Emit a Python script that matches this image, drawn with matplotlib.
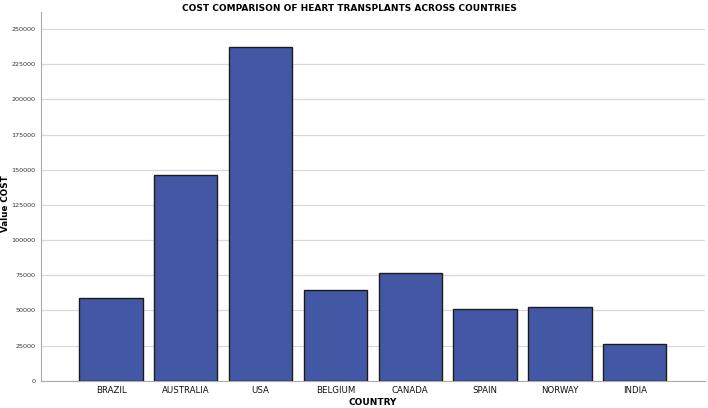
import matplotlib
matplotlib.use("Agg")
import matplotlib.pyplot as plt

countries = ["BRAZIL", "AUSTRALIA", "USA", "BELGIUM", "CANADA", "SPAIN", "NORWAY", "INDIA"]
costs = [58600, 146300, 237200, 64500, 76600, 51200, 52200, 25900]
yticks = [0, 25000, 50000, 75000, 100000, 125000, 150000, 175000, 200000, 225000, 250000]

plt.rcParams['font.family'] = ['DejaVu Sans']
fig = plt.figure(figsize=(7.08, 4.08), dpi=100)
ax = fig.add_axes([0.0575, 0.067, 0.9383, 0.904])

x = list(range(len(countries)))
ax.bar(x, costs, width=0.845, color="#4358A4", edgecolor="#1c1c1c", linewidth=1.0, zorder=3)

ax.set_xlim(-0.94, 7.94)
ax.set_ylim(0, 262300)
ax.set_yticks(yticks)
ax.set_yticklabels([str(v) for v in yticks], fontsize=4.6, color="#333333")
ax.set_xticks(x)
ax.set_xticklabels(countries, fontsize=6.2, color="#111111")
ax.tick_params(axis='y', length=0, pad=4)
ax.tick_params(axis='x', length=0, pad=4)

ax.grid(axis='y', color="#d8d8d8", linewidth=0.9, zorder=0)
ax.set_axisbelow(True)
for s in ["top", "right"]:
    ax.spines[s].set_visible(False)
ax.spines["left"].set_color("#aaaaaa")
ax.spines["left"].set_linewidth(0.8)
ax.spines["bottom"].set_color("#aaaaaa")
ax.spines["bottom"].set_linewidth(0.8)

fig.text(0.527, 0.003, "COUNTRY", ha="center", va="bottom", fontsize=6.5, fontweight="bold")
fig.text(0.001, 0.5, "Value COST", ha="left", va="center", rotation=90,
         fontsize=6.3, fontweight="bold")
fig.text(0.494, 0.99, "COST COMPARISON OF HEART TRANSPLANTS ACROSS COUNTRIES",
         ha="center", va="top", fontsize=6.5, fontweight="bold")

fig.savefig("out.png", dpi=100)
